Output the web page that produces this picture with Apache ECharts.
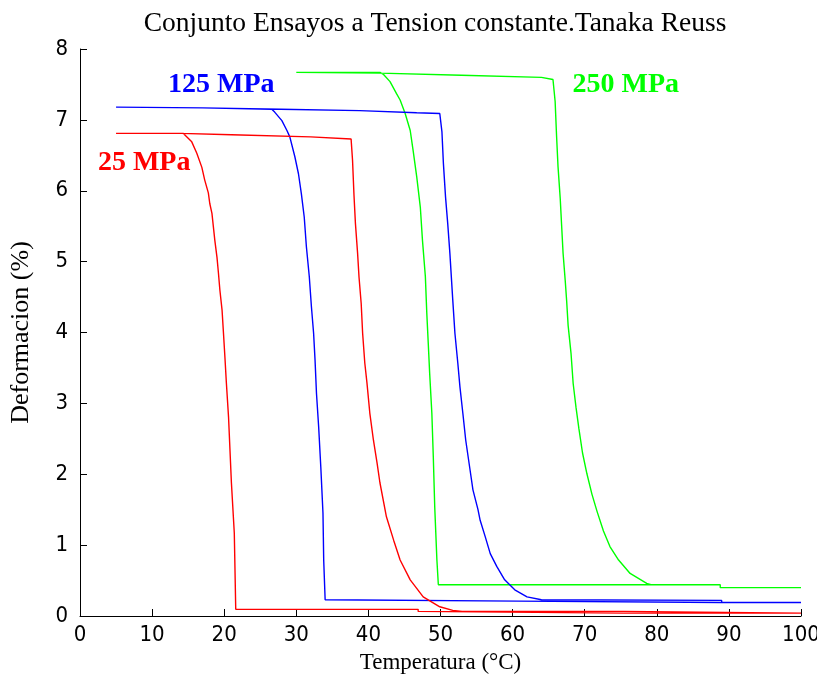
<!DOCTYPE html>
<html>
<head>
<meta charset="utf-8">
<script src="https://cdn.jsdelivr.net/npm/echarts@6/dist/echarts.min.js"></script>
<style>
  html, body { margin: 0; padding: 0; background: #fff; }
  #chart { width: 817px; height: 677px; }
</style>
</head>
<body>
<div id="chart"></div>
<script>
// Each loop: heating branch (low T -> 100 °C) followed by cooling branch (100 °C -> low T)
const temp25 = [5, 14, 21, 32, 37.6, 37.8, 38.0, 38.2, 38.5, 38.7, 39.0, 39.2, 39.5, 39.8, 40.2, 40.7, 41.2, 41.6, 42.5, 43.5, 44.4, 45.8, 47.6, 49.9, 51.7, 53, 75.4, 75.4, 100,
                75.4, 75.4, 46.9, 46.9, 21.6, 21.4, 21.0, 20.6, 20.3, 20.1, 19.9, 19.7, 19.4, 19.2, 19.0, 18.7, 18.5, 18.3, 18.0, 17.8, 17.3, 16.9, 16.2, 15.5, 14.3, 5];
const def25  = [6.81, 6.81, 6.79, 6.76, 6.73, 6.43, 5.94, 5.54, 5.12, 4.78, 4.41, 3.99, 3.57, 3.29, 2.86, 2.48, 2.16, 1.88, 1.40, 1.07, 0.79, 0.51, 0.27, 0.13, 0.08, 0.065, 0.065, 0.04, 0.04,
                0.04, 0.065, 0.065, 0.094, 0.094, 1.17, 1.88, 2.81, 3.29, 3.65, 3.99, 4.32, 4.60, 4.84, 5.06, 5.30, 5.49, 5.68, 5.82, 5.97, 6.15, 6.33, 6.53, 6.69, 6.81, 6.81];

const temp125 = [5, 17, 27.8, 38.8, 46.7, 49.9, 50.2, 50.4, 50.7, 51.0, 51.3, 51.7, 52.0, 52.4, 52.7, 53.1, 53.5, 54.1, 54.5, 55.2, 55.5, 56.2, 56.9, 57.8, 58.9, 60.3, 62.0, 64.0, 89, 89, 100,
                 89, 89, 60.8, 60.8, 34.0, 33.8, 33.7, 33.4, 33.1, 32.8, 32.6, 32.4, 32.1, 31.8, 31.4, 31.1, 30.7, 30.3, 29.8, 29.1, 28.7, 28.0, 27.0, 26.6, 17, 5];
const def125  = [7.18, 7.17, 7.15, 7.13, 7.10, 7.09, 6.83, 6.39, 5.91, 5.54, 5.12, 4.46, 3.99, 3.57, 3.23, 2.86, 2.48, 2.06, 1.78, 1.50, 1.35, 1.12, 0.88, 0.70, 0.51, 0.37, 0.27, 0.23, 0.22, 0.19, 0.19,
                 0.19, 0.21, 0.21, 0.23, 0.23, 0.79, 1.45, 2.10, 2.67, 3.14, 3.61, 3.99, 4.36, 4.79, 5.21, 5.63, 5.96, 6.24, 6.48, 6.76, 6.85, 6.99, 7.11, 7.15, 7.17, 7.18];

const temp250 = [30, 41.6, 52.9, 64.0, 65.6, 65.9, 66.1, 66.3, 66.6, 66.8, 67.0, 67.3, 67.5, 67.7, 68.1, 68.4, 68.8, 69.2, 69.7, 70.3, 71.0, 71.7, 72.6, 73.5, 74.7, 76.3, 78.6, 79.3, 88.8, 88.8, 100,
                 88.8, 88.8, 49.7, 49.5, 49.2, 49.0, 48.8, 48.5, 48.3, 48.1, 47.9, 47.5, 47.2, 46.7, 46.2, 45.8, 45.1, 44.4, 43.9, 43.0, 42.1, 41.6, 30];
const def250  = [7.67, 7.66, 7.63, 7.60, 7.57, 7.26, 6.77, 6.34, 5.90, 5.51, 5.12, 4.73, 4.44, 4.10, 3.71, 3.28, 2.94, 2.64, 2.30, 2.01, 1.72, 1.48, 1.20, 0.98, 0.79, 0.60, 0.46, 0.44, 0.44, 0.40, 0.40,
                 0.40, 0.44, 0.44, 0.79, 1.54, 2.25, 2.86, 3.42, 3.85, 4.27, 4.79, 5.30, 5.77, 6.20, 6.57, 6.85, 7.09, 7.28, 7.37, 7.54, 7.64, 7.67, 7.67];

const xTicks = [0, 10, 20, 30, 40, 50, 60, 70, 80, 90, 100];
const yTicks = [0, 1, 2, 3, 4, 5, 6, 7, 8];

// Stress labels and where they sit (temperature, deformation)
const stressNames = ['25 MPa', '125 MPa', '250 MPa'];
const stressLabelAt = [[8.9, 6.39], [19.6, 7.49], [75.7, 7.49]];
const stressColors = ['#ff0000', '#0000ff', '#00ff00'];

const loops = [[temp25, def25], [temp125, def125], [temp250, def250]];

const chart = echarts.init(document.getElementById('chart'), null, { renderer: 'canvas' });

const tickFont = "'Liberation Sans Narrow', 'DejaVu Sans Condensed', 'Liberation Sans', sans-serif";
const serifFont = "'Liberation Serif', 'DejaVu Serif', serif";

const series = loops.map((loop, i) => ({
  type: 'line',
  name: stressNames[i],
  data: loop[0].map((t, k) => [t, loop[1][k]]),
  showSymbol: false,
  symbol: 'none',
  lineStyle: { color: stressColors[i], width: 1.4 },
  itemStyle: { color: stressColors[i] },
  animation: false,
  z: 3 - i,
  markPoint: {
    symbol: 'circle',
    symbolSize: 1,
    itemStyle: { color: 'rgba(0,0,0,0)' },
    label: {
      show: true,
      position: 'inside',
      formatter: stressNames[i],
      color: stressColors[i],
      fontFamily: serifFont,
      fontWeight: 'bold',
      fontSize: 28
    },
    data: [{ coord: stressLabelAt[i] }]
  }
}));

chart.setOption({
  backgroundColor: '#ffffff',
  animation: false,
  title: {
    text: 'Conjunto Ensayos a Tension constante.Tanaka Reuss',
    left: 430,
    textAlign: 'center',
    top: 5,
    textStyle: { fontFamily: serifFont, fontWeight: 'normal', fontSize: 27.5, color: '#000' }
  },
  grid: { left: 80, right: 16, top: 49, bottom: 61, containLabel: false, outerBoundsMode: 'none' },
  xAxis: {
    type: 'value',
    min: 0, max: 100, interval: 10,
    name: 'Temperatura (°C)',
    nameLocation: 'middle',
    nameGap: 35,
    nameTextStyle: { fontFamily: serifFont, fontSize: 23, color: '#000' },
    axisLine: { show: true, onZero: false, lineStyle: { color: '#000', width: 1 } },
    axisTick: { show: true, inside: true, length: 7, lineStyle: { color: '#000' } },
    axisLabel: {
      fontFamily: tickFont, fontSize: 22, color: '#000', margin: 8,
      formatter: v => xTicks.includes(v) ? String(v) : ''
    },
    splitLine: { show: false }
  },
  yAxis: {
    type: 'value',
    min: 0, max: 8, interval: 1,
    name: 'Deformacion (%)',
    nameLocation: 'middle',
    nameGap: 46,
    nameRotate: 90,
    nameTextStyle: { fontFamily: serifFont, fontSize: 26, color: '#000' },
    axisLine: { show: true, onZero: false, lineStyle: { color: '#000', width: 1 } },
    axisTick: { show: true, inside: true, length: 7, lineStyle: { color: '#000' } },
    axisLabel: {
      fontFamily: tickFont, fontSize: 22, color: '#000', margin: 12,
      formatter: v => yTicks.includes(v) ? String(v) : ''
    },
    splitLine: { show: false }
  },
  series: series
});
</script>
</body>
</html>
